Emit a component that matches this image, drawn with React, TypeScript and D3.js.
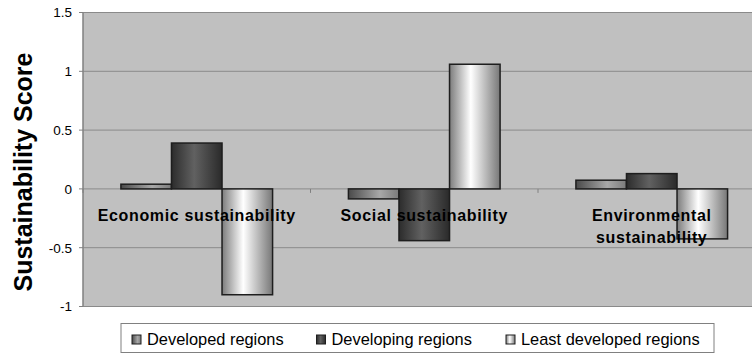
import React from "react";
import * as d3 from "d3";

const categories = ["Economic sustainability", "Social sustainability", "Environmental sustainability"];
const categoryLines = [["Economic sustainability"], ["Social sustainability"], ["Environmental", "sustainability"]];
const seriesNames = ["Developed regions", "Developing regions", "Least developed regions"];
const developed = [0.04, -0.085, 0.074];
const developing = [0.39, -0.44, 0.13];
const leastDeveloped = [-0.9, 1.06, -0.425];
const yTicks = [-1, -0.5, 0, 0.5, 1, 1.5];
const yTickLabels = ["-1", "-0.5", "0", "0.5", "1", "1.5"];

const seriesValues = [developed, developing, leastDeveloped];
const gradients = [
  [["0", "#4a4a4a"], ["0.62", "#a8a8a8"], ["1", "#7a7a7a"]],
  [["0", "#2c2c2c"], ["0.45", "#616161"], ["1", "#2a2a2a"]],
  [["0", "#7c7c7c"], ["0.42", "#ffffff"], ["1", "#777777"]],
];

const W = 752;
const H = 356;
const plotLeft = 83;
const plotTop = 12.5;
const plotBottom = 306.5;
const plotRight = 83 + 3 * 227.5;

export default function App() {
  const x0 = d3.scaleBand<string>().domain(categories).range([plotLeft, plotRight]).paddingInner(0).paddingOuter(0);
  const x1 = d3.scaleBand<string>().domain(seriesNames).range([0, x0.bandwidth()]).paddingInner(0).paddingOuter(0.75);
  const y = d3.scaleLinear().domain([-1, 1.5]).range([plotBottom, plotTop]);
  const font = "'Liberation Sans', Arial, sans-serif";

  const legendX = [132, 316.5, 506];

  return (
    <svg width={W} height={H} style={{ position: "absolute", left: 0, top: 0, background: "#fff" }} fontFamily={font}>
      <defs>
        {gradients.map((g, i) => (
          <linearGradient key={i} id={`grad${i}`} x1="0" y1="0" x2="1" y2="0">
            {g.map(([o, c], j) => (
              <stop key={j} offset={o} stopColor={c} />
            ))}
          </linearGradient>
        ))}
      </defs>
      <rect x={plotLeft} y={plotTop} width={plotRight - plotLeft} height={plotBottom - plotTop} fill="#c0c0c0" stroke="#808080" strokeWidth={1} />
      {yTicks.map((t) => (
        <line key={t} x1={plotLeft} x2={plotRight} y1={y(t)} y2={y(t)} stroke="#8a8a8a" strokeWidth={1} />
      ))}
      {yTicks.map((t) => (
        <line key={"tk" + t} x1={plotLeft - 4} x2={plotLeft} y1={y(t)} y2={y(t)} stroke="#808080" strokeWidth={1} />
      ))}
      <line x1={plotLeft} x2={plotLeft} y1={plotTop} y2={plotBottom} stroke="#808080" strokeWidth={1} />
      {categories.map((c) => (
        <line key={"ct" + c} x1={x0(c)!} x2={x0(c)!} y1={y(0)} y2={y(0) + 4} stroke="#808080" strokeWidth={1} />
      ))}
      {yTicks.map((t, i) => (
        <text key={"lb" + t} x={72} y={y(t)} dy="0.36em" textAnchor="end" fontSize={13.5} fill="#000">
          {yTickLabels[i]}
        </text>
      ))}
      <text transform={`translate(32,172) rotate(-90)`} textAnchor="middle" fontSize={25} fontWeight="bold" fill="#000">
        Sustainability Score
      </text>
      {categories.map((c, ci) =>
        seriesNames.map((s, si) => {
          const v = seriesValues[si][ci];
          const bx = x0(c)! + x1(s)!;
          const top = y(Math.max(0, v));
          const bot = y(Math.min(0, v));
          return (
            <rect key={c + s} x={bx} y={top} width={x1.bandwidth()} height={bot - top} fill={`url(#grad${si})`} stroke="#1e1e1e" strokeWidth={1.5} />
          );
        })
      )}
      {categories.map((c, ci) => (
        <text key={"cl" + c} x={x0(c)! + x0.bandwidth() / 2} y={220.5} textAnchor="middle" fontSize={16} fontWeight="bold" letterSpacing={0.65} fill="#000">
          {categoryLines[ci].map((ln, li) => (
            <tspan key={li} x={x0(c)! + x0.bandwidth() / 2} dy={li === 0 ? 0 : 22}>
              {ln}
            </tspan>
          ))}
        </text>
      ))}
      <rect x={121} y={323.5} width={593} height={29} fill="#fff" stroke="#808080" strokeWidth={1} />
      {seriesNames.map((s, si) => (
        <g key={"lg" + s}>
          <rect x={legendX[si]} y={335} width={9} height={9} fill={`url(#grad${si})`} stroke="#1e1e1e" strokeWidth={1} />
          <text x={legendX[si] + 15} y={345} fontSize={16.4} fill="#000">
            {s}
          </text>
        </g>
      ))}
    </svg>
  );
}
